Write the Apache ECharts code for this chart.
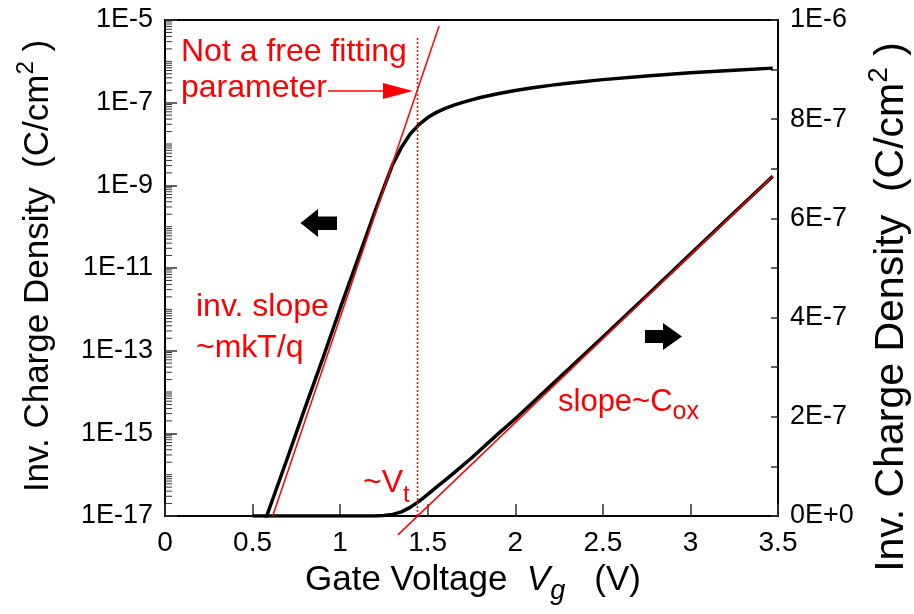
<!DOCTYPE html>
<html>
<head>
<meta charset="utf-8">
<script src="https://cdn.jsdelivr.net/npm/echarts@6/dist/echarts.min.js"></script>
<style>
	html, body { margin: 0; padding: 0; background: #fff; }
	#chart { width: 914px; height: 614px; }
</style>
</head>
<body>
<div id="chart"></div>
<script>
// gate voltage Vg (V)
const gateVoltage = [0.5, 0.55, 0.6, 0.7, 0.8, 0.9, 1.0, 1.1, 1.15, 1.2, 1.25, 1.3, 1.35, 1.4, 1.45, 1.5,
	1.55, 1.6, 1.65, 1.7, 1.75, 1.8, 1.9, 2.0, 2.1, 2.2, 2.3, 2.5, 2.75, 3.0, 3.25, 3.47];
// inversion charge density (C/cm^2), same curve on both axes
const chargeDensity = [1.1e-18, 4.3e-18, 1.7e-17, 2.6e-16, 4.2e-15, 6.3e-14, 1.05e-12, 1.6e-11, 6.2e-11, 2.4e-10,
	8.9e-10, 3.2e-9, 8.3e-9, 1.74e-8, 2.95e-8, 4.37e-8, 5.82e-8, 7.24e-8, 8.71e-8, 1.02e-7, 1.17e-7, 1.33e-7,
	1.65e-7, 1.96e-7, 2.29e-7, 2.62e-7, 2.95e-7, 3.61e-7, 4.44e-7, 5.28e-7, 6.12e-7, 6.85e-7];
// subthreshold fit (inv. slope ~ mkT/q), log axis
const subFitV = [0.615, 1.565];
const subFitQ = [1e-17, 7.2e-6];
// above threshold fit (slope ~ Cox), linear axis
const coxFitV = [1.33, 3.47];
const coxFitQ = [-0.38e-7, 6.85e-7];
// threshold marker
const vtV = [1.442, 1.442];
const vtQ = [1e-17, 4e-6];
// axis ticks
const xTicks = [0, 0.5, 1, 1.5, 2, 2.5, 3, 3.5];
const logTickLabels = ['1E-17', '1E-15', '1E-13', '1E-11', '1E-9', '1E-7', '1E-5'];
const linTickLabels = ['0E+0', '2E-7', '4E-7', '6E-7', '8E-7', '1E-6'];

const FONT = '"Liberation Sans", Arial, sans-serif';
const RED = '#ff0000';

// log axis is drawn as decades above 1E-17
const decades = q => Math.log10(q) + 17;

const logMinorTicks = [];
for (let n = 0; n < 12; n++) {
	for (let k = 1; k <= 9; k++) {
		if (k === 1 && n % 2 === 0) continue;
		logMinorTicks.push([0, n + Math.log10(k)]);
	}
}

const measureCtx = document.createElement('canvas').getContext('2d');
// pieces: [text, size, baselineShift, italic]
function textRun(x, baseline, pieces, fill) {
	let cx = x;
	return pieces.map(([text, size, shift, italic]) => {
		const font = (italic ? 'italic ' : '') + size + 'px ' + FONT;
		measureCtx.font = font;
		const w = measureCtx.measureText(text).width;
		const el = {
			type: 'text',
			x: cx,
			y: baseline + (shift || 0) - 0.31 * size,
			style: { text, font, fill, align: 'left', verticalAlign: 'middle', textAlign: 'left', textVerticalAlign: 'middle' }
		};
		cx += w;
		return el;
	});
}
function runWidth(pieces) {
	return pieces.reduce((s, [text, size, shift, italic]) => {
		measureCtx.font = (italic ? 'italic ' : '') + size + 'px ' + FONT;
		return s + measureCtx.measureText(text).width;
	}, 0);
}
function verticalName(cx, cy, size) {
	const pieces = [['Inv. Charge Density  (C/cm', size], ['2', Math.round(size * 0.68), -0.42 * size], [' )', size]];
	const w = runWidth(pieces);
	return {
		type: 'group', x: cx, y: cy, rotation: Math.PI / 2,
		children: textRun(-w / 2, 0.31 * size, pieces, '#000')
	};
}

const chart = echarts.init(document.getElementById('chart'), null, { renderer: 'canvas' });

chart.setOption({
	animation: false,
	grid: { left: 165, right: 136, top: 20, bottom: 98, show: true, borderColor: '#000', borderWidth: 2 },
	xAxis: {
		type: 'value', min: 0, max: 3.5, interval: 0.5,
		axisLine: { lineStyle: { color: '#000', width: 2 } },
		axisTick: { inside: true, length: 12, lineStyle: { color: '#333', width: 1.5 } },
		axisLabel: { fontSize: 28, fontFamily: FONT, color: '#000', margin: 13,
			formatter: v => xTicks.includes(v) ? String(v) : '' },
		splitLine: { show: false }
	},
	yAxis: [{
		type: 'value', min: 0, max: 12, interval: 2, position: 'left',
		axisLine: { show: true, lineStyle: { color: '#000', width: 2 } },
		axisTick: { inside: true, length: 12, lineStyle: { color: '#333', width: 1.5 } },
		axisLabel: { fontSize: 27, fontFamily: FONT, color: '#000', margin: 12,
			formatter: v => logTickLabels[Math.round(v / 2)] || '' },
		splitLine: { show: false }
	}, {
		type: 'value', min: 0, max: 1e-6, interval: 2e-7, position: 'right',
		axisLine: { show: true, lineStyle: { color: '#000', width: 2 } },
		axisTick: { inside: true, length: 7, lineStyle: { color: '#333', width: 1.5 } },
		minorTick: { show: true, splitNumber: 2, length: 7, lineStyle: { color: '#333', width: 1.5 } },
		axisLabel: { fontSize: 27, fontFamily: FONT, color: '#000', margin: 12,
			formatter: v => linTickLabels[Math.round(v / 2e-7)] || '' },
		splitLine: { show: false }
	}],
	series: [{
		type: 'custom', yAxisIndex: 0, silent: true, clip: false,
		data: logMinorTicks,
		renderItem: (params, api) => {
			const p = api.coord([0, api.value(1)]);
			return { type: 'line', shape: { x1: p[0], y1: p[1], x2: p[0] + 7, y2: p[1] },
				style: { stroke: '#333', lineWidth: 1 } };
		}
	}, {
		type: 'line', yAxisIndex: 0, showSymbol: false, z: 3,
		data: gateVoltage.map((v, i) => [v, decades(chargeDensity[i])]),
		lineStyle: { color: '#000', width: 3.5 }
	}, {
		type: 'line', yAxisIndex: 1, showSymbol: false, z: 3,
		data: gateVoltage.map((v, i) => [v, chargeDensity[i]]),
		lineStyle: { color: '#000', width: 3.5 }
	}, {
		type: 'line', yAxisIndex: 0, showSymbol: false, z: 4,
		data: subFitV.map((v, i) => [v, decades(subFitQ[i])]),
		lineStyle: { color: RED, width: 1.5 }
	}, {
		type: 'line', yAxisIndex: 1, showSymbol: false, z: 4, clip: false,
		data: coxFitV.map((v, i) => [v, coxFitQ[i]]),
		lineStyle: { color: RED, width: 1.5 }
	}, {
		type: 'line', yAxisIndex: 0, showSymbol: false, z: 4,
		data: vtV.map((v, i) => [v, decades(vtQ[i])]),
		lineStyle: { color: RED, width: 1.5, type: [2, 2] }
	}],
	graphic: [
		...textRun(181, 61.7, [['Not a free fitting', 32]], RED),
		...textRun(181, 98.3, [['parameter', 32]], RED),
		{ type: 'line', shape: { x1: 328, y1: 91, x2: 390, y2: 91 }, style: { stroke: RED, lineWidth: 1.5 } },
		{ type: 'polygon', shape: { points: [[383, 83], [413, 91], [383, 99]] }, style: { fill: RED } },
		...textRun(196, 316.7, [['inv. slope', 32]], RED),
		...textRun(196, 358.3, [['~mkT/q', 32]], RED),
		...textRun(558, 411.7, [['slope~C', 31], ['ox', 25, 8]], RED),
		...textRun(363, 493.3, [['~V', 32], ['t', 24, 10]], RED),
		{ type: 'polygon', shape: { points: [[337, 216.5], [318, 216.5], [318, 209], [300.5, 223], [318, 237], [318, 230], [337, 230]] }, style: { fill: '#000' } },
		{ type: 'polygon', shape: { points: [[645, 330], [663, 330], [663, 323], [682, 336.5], [663, 350], [663, 343], [645, 343]] }, style: { fill: '#000' } },
		...textRun(305, 591, [['Gate Voltage  ', 35], ['V', 35, 0, true], ['g', 27, 9, true], ['   (V)', 35]], '#000'),
		verticalName(38, 266, 35),
		verticalName(892, 307, 41)
	]
});
</script>
</body>
</html>
